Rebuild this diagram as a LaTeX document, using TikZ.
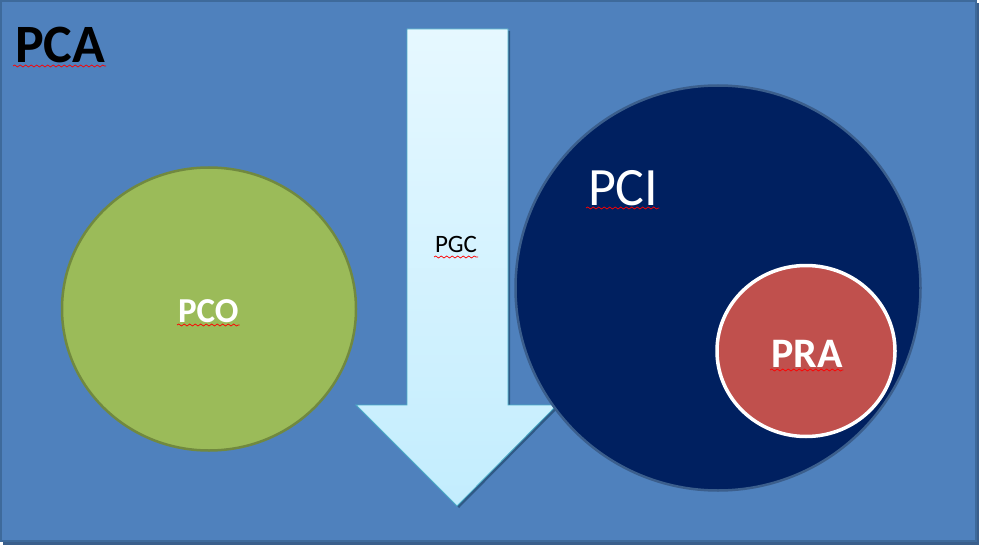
\documentclass[tikz,border=0pt]{standalone}
\usepackage{fontspec}
\setmainfont{Carlito}
\usetikzlibrary{shapes.geometric,decorations.pathmorphing}
\definecolor{bgblue}{HTML}{4F81BD}
\definecolor{bgedge}{HTML}{3E6A9B}
\definecolor{bgshadow}{HTML}{3A5F8C}
\definecolor{arrtop}{HTML}{E6F8FF}
\definecolor{arrbot}{HTML}{C3EDFE}
\definecolor{arredge}{HTML}{4BACC6}
\definecolor{arrshadow}{HTML}{2F5A86}
\definecolor{pcogreen}{HTML}{9BBB59}
\definecolor{pcoedge}{HTML}{71893F}
\definecolor{pcinavy}{HTML}{002060}
\definecolor{pciedge}{HTML}{3B5E8C}
\definecolor{prared}{HTML}{C0504D}
\tikzset{
  blob/.style={inner sep=0pt, outer sep=0pt},
  lbl/.style={inner sep=0pt, outer sep=0pt, anchor=base west},
  squig/.style={red, line width=0.7pt, decorate, decoration={snake, segment length=5.5pt, amplitude=1pt}}
}
\begin{document}
\begin{tikzpicture}[x=1pt,y=-1pt]
\useasboundingbox (0,0) rectangle (982,548);
\fill[white] (0,0) rectangle (982,548);
% background panel with shadow
\fill[bgshadow] (3,3) rectangle (979,545);
\fill[bgblue, draw=bgedge, line width=2pt] (1,1) rectangle (976,541);
% arrow shadow
\fill[arrshadow] (409,31) -- (510,31) -- (510,407) -- (559,407) -- (459,508) -- (358,407) -- (409,407) -- cycle;
% arrow
\path[draw=arredge, line width=0.8pt, top color=arrtop, bottom color=arrbot]
  (407,29) coordinate (a1) -- (508,29) -- (508,405) -- (557,405) -- (457,506) coordinate (tip) -- (356,405) -- (407,405) -- cycle;
% circles
\node[blob, ellipse, minimum width=294pt, minimum height=283pt, fill=pcogreen, draw=pcoedge, line width=2.5pt] (pco) at (209,309) {};
\node[blob, circle, minimum size=405pt, fill=pcinavy, draw=pciedge, line width=2.5pt] (pci) at (718,288) {};
\node[blob, ellipse, minimum width=178pt, minimum height=171pt, fill=prared, draw=white, line width=3.5pt] (pra) at (806,351) {};
% labels
\node[lbl, font=\fontsize{54}{54}\selectfont\bfseries, text=black] (tpca) at (15,63) {PCA};
\node[lbl, font=\fontsize{25}{25}\selectfont, text=black] (tpgc) at (435,252) {PGC};
\node[lbl, font=\fontsize{35}{35}\selectfont\bfseries, text=white] (tpco) at (178,322) {PCO};
\node[lbl, font=\fontsize{54}{54}\selectfont, text=white] (tpci) at (588,205) {PCI};
\node[lbl, font=\fontsize{42}{42}\selectfont\bfseries, text=white] (tpra) at (771,367) {PRA};
% spell-check underlines
\draw[squig] ([shift={(-2pt,-3pt)}]tpca.base west) -- ([shift={(1pt,-3pt)}]tpca.base east);
\draw[squig] ([shift={(-1pt,-5pt)}]tpgc.base west) -- ([shift={(1pt,-5pt)}]tpgc.base east);
\draw[squig] ([shift={(-1pt,-3pt)}]tpco.base west) -- ([shift={(1pt,-3pt)}]tpco.base east);
\draw[squig] ([shift={(-2pt,-3pt)}]tpci.base west) -- ([shift={(1pt,-3pt)}]tpci.base east);
\draw[squig] ([shift={(-1pt,-3pt)}]tpra.base west) -- ([shift={(1pt,-3pt)}]tpra.base east);
\end{tikzpicture}
\end{document}
